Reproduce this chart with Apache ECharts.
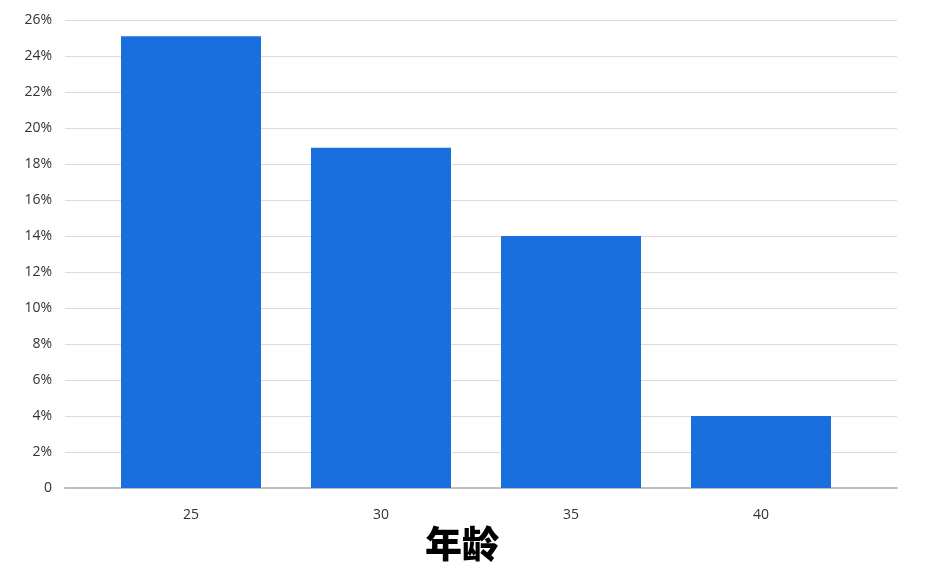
<!DOCTYPE html>
<html>
<head>
<meta charset="utf-8">
<script src="https://cdn.jsdelivr.net/npm/echarts@6/dist/echarts.min.js"></script>
<style>html,body{margin:0;padding:0;background:#fff;}#c{width:950px;height:584px;}</style>
</head>
<body>
<div id="c"></div>
<script>
var categories = ['25', '30', '35', '40'];
var shares = [25.1, 18.9, 14.0, 4.0];
var yTicks = { min: 0, max: 26, interval: 2 };
var xTitle = '年龄';

var chart = echarts.init(document.getElementById('c'), null, { renderer: 'canvas' });
var labelFont = '"Open Sans", Lato, "Noto Sans", sans-serif';
chart.setOption({
  animation: false,
  backgroundColor: '#ffffff',
  title: {
    text: xTitle,
    left: 457, top: 520,
    textAlign: 'center',
    textStyle: { fontFamily: '"Noto Sans CJK SC"', fontWeight: 900, fontSize: 37, color: '#000' }
  },
  grid: [
    { left: 65, right: 53, top: 20, bottom: 96 },
    { left: 96, right: 94, top: 20, bottom: 96 }
  ],
  xAxis: [
    { gridIndex: 0, type: 'category', data: [''], axisLine: { lineStyle: { color: '#bdbdbd', width: 2 } },
      axisTick: { show: false }, axisLabel: { show: false }, splitLine: { show: false } },
    { gridIndex: 1, type: 'category', data: categories, axisLine: { show: false }, axisTick: { show: false },
      axisLabel: { margin: 20, color: '#333', fontSize: 14, fontFamily: labelFont } }
  ],
  yAxis: [
    { gridIndex: 0, type: 'value', min: yTicks.min, max: yTicks.max, interval: yTicks.interval,
      axisLine: { show: false }, axisTick: { show: false },
      axisLabel: { margin: 13, color: '#333', fontSize: 14, fontFamily: labelFont,
        formatter: function (v) { return v === 0 ? '0' : v + '%'; } },
      splitLine: { lineStyle: { color: '#dcdcdc', width: 1 } } },
    { gridIndex: 1, type: 'value', min: yTicks.min, max: yTicks.max, interval: yTicks.interval, show: false,
      splitLine: { show: false } }
  ],
  series: [{
    type: 'bar', xAxisIndex: 1, yAxisIndex: 1, data: shares, barWidth: 140,
    itemStyle: { color: '#1a6fdf' }
  }]
});
</script>
</body>
</html>
